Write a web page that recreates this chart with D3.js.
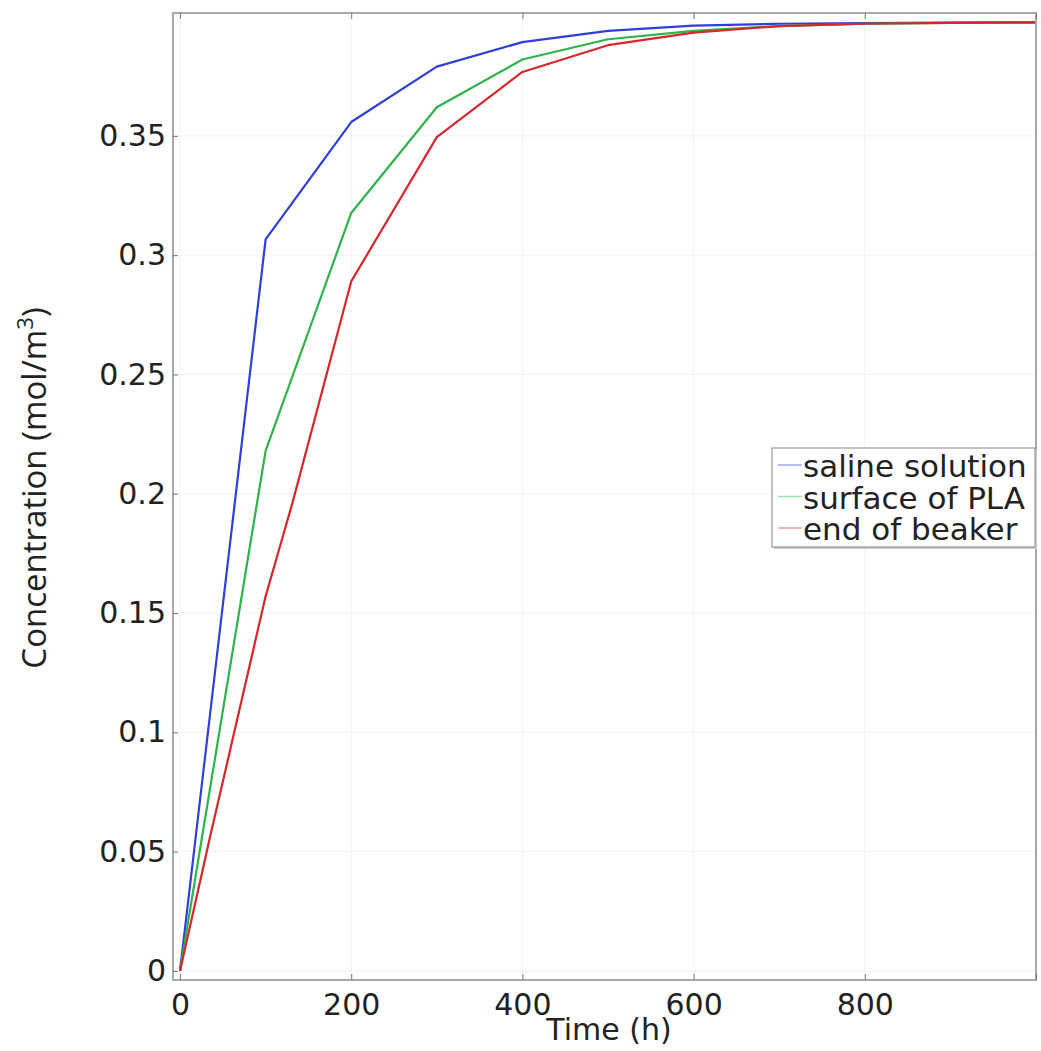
<!DOCTYPE html>
<html>
<head>
<meta charset="utf-8">
<script src="https://cdn.jsdelivr.net/npm/d3@7"></script>
<style>
  body { margin: 0; background: #fff; }
  text { font-family: "DejaVu Sans", sans-serif; fill: #222; }
</style>
</head>
<body>
<div id="chart-container"></div>
<script>
// data
var timeCommon = [0, 100, 200, 300, 400, 500, 600, 700, 800, 900, 1000];
var salineValues = [0, 0.3066, 0.3558, 0.379, 0.3893, 0.394, 0.3962, 0.397, 0.3973, 0.3975, 0.3976];
var surfaceValues = [0, 0.218, 0.3177, 0.362, 0.382, 0.3905, 0.394, 0.396, 0.397, 0.3974, 0.3976];
var timeBeaker = [0, 35, 100, 132, 200, 300, 400, 500, 600, 700, 800, 900, 1000];
var beakerValues = [0, 0.056, 0.157, 0.197, 0.289, 0.3495, 0.3768, 0.388, 0.3933, 0.396, 0.397, 0.3974, 0.3976];
var seriesNames = ["saline solution", "surface of PLA", "end of beaker"];
var xTicks = [0, 200, 400, 600, 800, 1000];
var yTicks = [0, 0.05, 0.1, 0.15, 0.2, 0.25, 0.3, 0.35];

var W = 1041, H = 1051;
var plotL = 173, plotR = 1036, plotT = 13, plotB = 980;

var svg = d3.select("#chart-container")
  .append("svg")
  .attr("width", W)
  .attr("height", H);

var x = d3.scaleLinear().domain([-8.2, 1000]).range([plotL, plotR]);
var y = d3.scaleLinear().domain([-0.0038, 0.4015]).range([plotB, plotT]);

var color = d3.scaleOrdinal().domain(seriesNames).range(["#2f3fd8", "#2db34a", "#d6282c"]);

// faint grid
svg.append("g").selectAll("line")
  .data(xTicks).enter().append("line")
  .attr("x1", function(d) { return x(d); }).attr("x2", function(d) { return x(d); })
  .attr("y1", plotT).attr("y2", plotB)
  .style("stroke", "#f2f2f2");
svg.append("g").selectAll("line")
  .data(yTicks).enter().append("line")
  .attr("x1", plotL).attr("x2", plotR)
  .attr("y1", function(d) { return y(d); }).attr("y2", function(d) { return y(d); })
  .style("stroke", "#f2f2f2");

// lines
var line = d3.line()
  .x(function(d) { return x(d[0]); })
  .y(function(d) { return y(d[1]); });

var series = [
  { name: seriesNames[0], pts: d3.zip(timeCommon, salineValues) },
  { name: seriesNames[1], pts: d3.zip(timeCommon, surfaceValues) },
  { name: seriesNames[2], pts: d3.zip(timeBeaker, beakerValues) }
];

series.forEach(function(s) {
  svg.append("path")
    .datum(s.pts)
    .attr("d", line)
    .style("fill", "none")
    .style("stroke", color(s.name))
    .style("stroke-width", 2.2)
    .style("stroke-linejoin", "round");
});

// frame
svg.append("rect")
  .attr("x", plotL).attr("y", plotT)
  .attr("width", plotR - plotL).attr("height", plotB - plotT)
  .style("fill", "none")
  .style("stroke", "#a8a8a8")
  .style("stroke-width", 2);

// inward ticks, bottom and top
var xAxisB = d3.axisBottom(x).tickValues(xTicks).tickSize(-6).tickFormat(function(d) { return d === 1000 ? "" : d; }).tickPadding(14);
var gxb = svg.append("g").attr("transform", "translate(0," + plotB + ")").call(xAxisB);
var xAxisT = d3.axisTop(x).tickValues(xTicks).tickSize(-6).tickFormat("");
var gxt = svg.append("g").attr("transform", "translate(0," + plotT + ")").call(xAxisT);
var yAxisL = d3.axisLeft(y).tickValues(yTicks).tickSize(-5).tickPadding(7).tickFormat(function(d) { return String(+d.toFixed(2)); });
var gyl = svg.append("g").attr("transform", "translate(" + plotL + ",0)").call(yAxisL);

[gxb, gxt, gyl].forEach(function(g) {
  g.select(".domain").remove();
  g.selectAll(".tick line").style("stroke", "#777");
  g.selectAll("text").style("font-family", "DejaVu Sans").style("font-size", "30px").style("fill", "#222");
});

// axis titles
svg.append("text")
  .attr("x", 609)
  .attr("y", 1040)
  .style("text-anchor", "middle")
  .style("font-size", "30px")
  .text("Time (h)");

var yl = svg.append("text")
  .attr("transform", "translate(46,488) rotate(-90)")
  .style("text-anchor", "middle")
  .style("font-family", "Open Sans")
  .style("font-size", "33px");
yl.append("tspan").text("Concentration (mol/m");
yl.append("tspan").attr("dy", -13).style("font-size", "22px").text("3");
yl.append("tspan").attr("dy", 13).text(")");

// legend
var lgX = 772, lgY = 448, lgW = 263, lgH = 99;
svg.append("rect")
  .attr("x", lgX + 2).attr("y", lgY + 2)
  .attr("width", lgW).attr("height", lgH)
  .style("fill", "#ccc");
svg.append("rect")
  .attr("x", lgX).attr("y", lgY)
  .attr("width", lgW).attr("height", lgH)
  .style("fill", "#fff")
  .style("stroke", "#999")
  .style("stroke-width", 1.2);

var legend = svg.selectAll(".legend")
  .data(seriesNames)
  .enter().append("g")
  .attr("class", "legend")
  .attr("transform", function(d, i) { return "translate(0," + (lgY + 29 + i * 31.5) + ")"; });

legend.append("line")
  .attr("x1", 778).attr("x2", 802)
  .attr("y1", -12).attr("y2", -12)
  .style("stroke", function(d) { return color(d); })
  .style("stroke-opacity", 0.45)
  .style("stroke-width", 1.5);

legend.append("text")
  .attr("x", 803)
  .attr("y", 0)
  .style("font-size", "31px")
  .text(function(d) { return d; });
</script>
</body>
</html>
